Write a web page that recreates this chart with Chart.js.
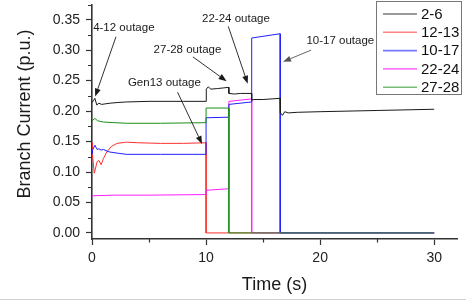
<!DOCTYPE html>
<html>
<head>
<meta charset="utf-8">
<script src="https://cdn.jsdelivr.net/npm/chart.js@4.4.1/dist/chart.umd.min.js"></script>
<style>
  html, body { margin: 0; padding: 0; background: #fff; }
  #wrap { position: relative; width: 466px; height: 301px; }
</style>
</head>
<body>
<div id="wrap"><canvas id="c"></canvas></div>
<script>
/* ── dati ───────────────────────────────────────── */
var SERIES_LABELS = ['2-6', '12-13', '10-17', '22-24', '27-28'];
var SERIES_COLORS = ['#1a1a1a', '#ff3030', '#2020ff', '#ff20ff', '#1a8f1a'];

var t26 = [0, 0.12, 0.25, 0.42, 0.6, 0.85, 1.2, 1.6, 2.2, 3, 5, 8, 10, 10.02, 10.2, 10.4, 11, 11.5, 11.99, 12, 12.5, 13, 13.99, 14, 14.2, 15, 16.49, 16.52, 16.7, 16.9, 17.2, 18, 20, 25, 30];
var v26 = [0.214, 0.217, 0.221, 0.210, 0.213, 0.211, 0.212, 0.213, 0.214, 0.215, 0.216, 0.216, 0.216, 0.236, 0.240, 0.236, 0.237, 0.238, 0.239, 0.229, 0.228, 0.229, 0.229, 0.218, 0.219, 0.219, 0.221, 0.197, 0.193, 0.199, 0.197, 0.198, 0.199, 0.201, 0.203];

var t1213 = [0, 0.03, 0.2, 0.45, 0.6, 0.8, 1.0, 1.3, 1.7, 2.2, 3, 4, 6, 8, 10, 10, 30];
var v1213 = [0.148, 0.13, 0.098, 0.117, 0.119, 0.112, 0.122, 0.133, 0.142, 0.147, 0.149, 0.148, 0.147, 0.147, 0.148, 0, 0];

var t1017 = [0, 0.05, 0.25, 0.45, 0.6, 0.8, 1.0, 1.5, 2.2, 3, 6, 10, 10, 12, 12, 14, 14, 16.5, 16.5, 30];
var v1017 = [0.130, 0.136, 0.144, 0.137, 0.138, 0.136, 0.137, 0.133, 0.131, 0.129, 0.129, 0.129, 0.189, 0.190, 0.211, 0.215, 0.320, 0.327, 0, 0];

var t2224 = [0, 2, 5, 10, 10, 12, 12, 14, 14, 30];
var v2224 = [0.061, 0.062, 0.062, 0.063, 0.070, 0.0725, 0.216, 0.220, 0, 0];

var t2728 = [0, 0.25, 0.5, 1, 2, 3, 6, 10, 10, 12, 12, 30];
var v2728 = [0.184, 0.188, 0.184, 0.182, 0.181, 0.180, 0.180, 0.181, 0.205, 0.205, 0, 0];

var X_TICKS = [0, 10, 20, 30];
var X_MINOR = [5, 15, 25];
var Y_TICKS = [0, 0.05, 0.10, 0.15, 0.20, 0.25, 0.30, 0.35];
var Y_MINOR = [0.025, 0.075, 0.125, 0.175, 0.225, 0.275, 0.325, 0.375];

/* annotazioni (coordinate in unità dei dati) */
var NOTES = [
  { text: '4-12 outage',  tx: 0.1,  ty: 0.337, x1: 2.1,  y1: 0.322, x2: 0.28,  y2: 0.224 },
  { text: '27-28 outage', tx: 5.4,  ty: 0.301, x1: 8.85, y1: 0.289, x2: 11.8,  y2: 0.249 },
  { text: '22-24 outage', tx: 9.65, ty: 0.352, x1: 11.95, y1: 0.339, x2: 13.65, y2: 0.245 },
  { text: 'Gen13 outage', tx: 3.15, ty: 0.246, x1: 7.5,  y1: 0.231, x2: 9.65,  y2: 0.146 },
  { text: '10-17 outage', tx: 18.8, ty: 0.316, x1: 19.2, y1: 0.300, x2: 16.75, y2: 0.281, gray: true }
];

var FONT = 'Arial, "Liberation Sans", sans-serif';

function pts(ts, vs) {
  return ts.map(function(t, i) { return { x: t, y: vs[i] }; });
}

var SERIES_DATA = [pts(t26, v26), pts(t1213, v1213), pts(t1017, v1017), pts(t2224, v2224), pts(t2728, v2728)];
/* ordine di disegno: nero sopra, poi verde, magenta, blu, rosso */
var DRAW_ORDER = [0, 4, 2, 3, 1];

/* ── plugin: tacche minori, titoli, legenda, frecce ── */
var decorPlugin = {
  id: 'decor',
  afterDraw: function(chart) {
    var ctx = chart.ctx;
    var xs = chart.scales.x, ys = chart.scales.y;
    var area = chart.chartArea;
    ctx.save();

    // tacche minori
    ctx.strokeStyle = '#333';
    ctx.lineWidth = 1.2;
    ctx.beginPath();
    X_MINOR.forEach(function(v) {
      var px = Math.round(xs.getPixelForValue(v)) + 0.5;
      ctx.moveTo(px, area.bottom);
      ctx.lineTo(px, area.bottom + 3.5);
    });
    Y_MINOR.forEach(function(v) {
      var py = Math.round(ys.getPixelForValue(v)) + 0.5;
      ctx.moveTo(area.left, py);
      ctx.lineTo(area.left - 4, py);
    });
    ctx.stroke();

    // titoli assi
    ctx.fillStyle = '#1a1a1a';
    ctx.font = '18px ' + FONT;
    ctx.textAlign = 'center';
    ctx.textBaseline = 'middle';
    ctx.fillText('Time (s)', (area.left + area.right) / 2, 285);
    ctx.save();
    ctx.translate(25, 114);
    ctx.rotate(-Math.PI / 2);
    ctx.fillText('Branch Current (p.u.)', 0, 0);
    ctx.restore();

    // annotazioni con frecce
    ctx.font = '11.5px ' + FONT;
    ctx.textAlign = 'left';
    NOTES.forEach(function(n) {
      var col = n.gray ? '#555' : '#1a1a1a';
      ctx.fillStyle = '#1a1a1a';
      ctx.fillText(n.text, xs.getPixelForValue(n.tx), ys.getPixelForValue(n.ty));
      var ax = xs.getPixelForValue(n.x1), ay = ys.getPixelForValue(n.y1);
      var bx = xs.getPixelForValue(n.x2), by = ys.getPixelForValue(n.y2);
      var ang = Math.atan2(by - ay, bx - ax);
      var hl = 8, hw = 3;
      ctx.strokeStyle = col;
      ctx.fillStyle = col;
      ctx.lineWidth = 0.9;
      ctx.beginPath();
      ctx.moveTo(ax, ay);
      ctx.lineTo(bx - Math.cos(ang) * hl, by - Math.sin(ang) * hl);
      ctx.stroke();
      ctx.beginPath();
      ctx.moveTo(bx, by);
      ctx.lineTo(bx - Math.cos(ang) * hl - Math.sin(ang) * hw, by - Math.sin(ang) * hl + Math.cos(ang) * hw);
      ctx.lineTo(bx - Math.cos(ang) * hl + Math.sin(ang) * hw, by - Math.sin(ang) * hl - Math.cos(ang) * hw);
      ctx.closePath();
      ctx.fill();
    });

    // legenda
    var lx = 376.5, ly = 1.5, lw = 85, lh = 93;
    ctx.fillStyle = '#fff';
    ctx.fillRect(lx, ly, lw, lh);
    ctx.strokeStyle = '#777';
    ctx.lineWidth = 1;
    ctx.strokeRect(lx, ly, lw, lh);
    ctx.font = '15px ' + FONT;
    ctx.textBaseline = 'middle';
    SERIES_LABELS.forEach(function(lab, i) {
      var yy = 14 + i * 18.3;
      ctx.strokeStyle = SERIES_COLORS[i];
      ctx.globalAlpha = 0.6;
      ctx.lineWidth = 1.6;
      ctx.beginPath();
      ctx.moveTo(383, yy);
      ctx.lineTo(417, yy);
      ctx.stroke();
      ctx.globalAlpha = 1;
      ctx.fillStyle = '#111';
      ctx.fillText(lab, 421, yy + 0.5);
    });

    // filetto grigio in basso
    ctx.strokeStyle = '#d0d0d0';
    ctx.lineWidth = 1;
    ctx.beginPath();
    ctx.moveTo(0, 299.5);
    ctx.lineTo(466, 299.5);
    ctx.stroke();

    ctx.restore();
  }
};

var bgPlugin = {
  id: 'bg',
  beforeDraw: function(chart) {
    var ctx = chart.ctx;
    ctx.save();
    ctx.fillStyle = '#fff';
    ctx.fillRect(0, 0, chart.width, chart.height);
    ctx.restore();
  }
};

var _chart = new Chart(document.getElementById('c'), {
  type: 'line',
  data: {
    datasets: SERIES_LABELS.map(function(lab, i) {
      return {
        label: lab,
        data: SERIES_DATA[i],
        borderColor: SERIES_COLORS[i],
        borderWidth: 1,
        pointRadius: 0,
        tension: 0,
        fill: false,
        order: DRAW_ORDER[i]
      };
    })
  },
  options: {
    responsive: true,
    maintainAspectRatio: false,
    animation: false,
    layout: { padding: { left: 0, top: 4.5, right: 9, bottom: 0 } },
    plugins: { legend: { display: false }, tooltip: { enabled: false } },
    scales: {
      x: {
        type: 'linear',
        min: 0,
        max: 32,
        afterBuildTicks: function(s) { s.ticks = X_TICKS.map(function(v) { return { value: v }; }); },
        afterFit: function(s) { s.height = 62; s.paddingLeft = 0; s.paddingRight = 0; },
        grid: { drawOnChartArea: false, drawTicks: true, tickLength: 6, tickColor: '#333', tickWidth: 1.2 },
        border: { color: '#333', width: 1.6 },
        ticks: { color: '#222', font: { size: 14, family: FONT }, padding: 5, maxRotation: 0 }
      },
      y: {
        min: -0.01,
        max: 0.375,
        afterBuildTicks: function(s) { s.ticks = Y_TICKS.map(function(v) { return { value: v }; }); },
        afterFit: function(s) { s.width = 92; s.paddingTop = 0; s.paddingBottom = 0; },
        grid: { drawOnChartArea: false, drawTicks: true, tickLength: 6, tickColor: '#333', tickWidth: 1.2 },
        border: { color: '#333', width: 1.6 },
        ticks: {
          color: '#222',
          font: { size: 14, family: FONT },
          padding: 6,
          callback: function(v) { return Number(v).toFixed(2); }
        }
      }
    }
  },
  plugins: [bgPlugin, decorPlugin]
});
</script>
</body>
</html>
